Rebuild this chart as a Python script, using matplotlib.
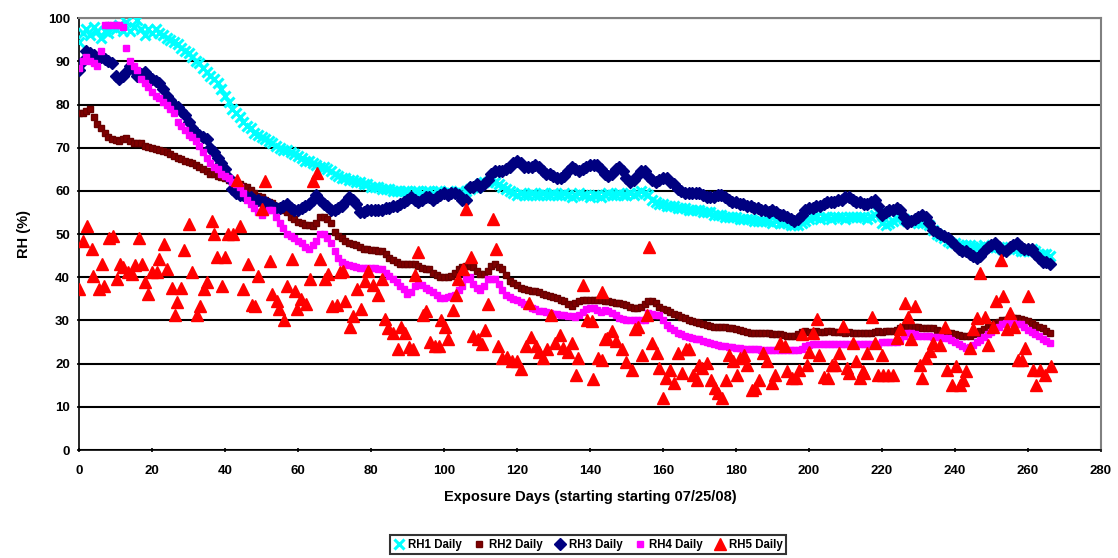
import numpy as np
import matplotlib
matplotlib.use("Agg")
import matplotlib.pyplot as plt

plt.rcParams['font.family'] = ['Liberation Sans', 'DejaVu Sans']
plt.rcParams['font.weight'] = 'bold'

# daily readings, day 0 .. 266
rh1 = [94.5, 96.5, 97.5, 96, 98, 97, 95.5, 97, 96.5, 98,
       97.5, 98.5, 97, 99, 97, 98, 99.5, 97.5, 96, 97.5,
       96.5, 97.5, 96.5, 96, 95.5, 95, 94.5, 94, 93, 92.5,
       92, 91, 90, 89.5, 88.5, 87.5, 86.5, 86, 85, 83.5,
       82, 80.5, 79, 78, 77, 76, 75, 74.5, 73.5, 73,
       72.5, 72, 71.5, 71, 70.5, 70, 69.5, 69.5, 69, 68.5,
       68, 67.5, 67, 67, 66.5, 66, 65.5, 65.5, 65, 64.5,
       64, 63.5, 63, 63, 62.5, 62.5, 62, 62, 61.5, 61.5,
       61, 61, 61, 60.5, 60.5, 60.5, 60, 60, 60, 60,
       60, 59.5, 60, 60, 59.5, 60, 60, 59.5, 60, 60,
       59.5, 60, 59.5, 59.5, 60, 59.5, 60, 60.5, 61, 61,
       61.5, 62, 62, 62.5, 62, 61.5, 61, 60.5, 60, 59.5,
       59, 59.5, 59, 59, 59.5, 59, 59, 59.5, 59, 59,
       59.5, 59, 59, 59.5, 59, 58.5, 59, 59.5, 59, 59,
       58.5, 59, 59, 58.5, 59, 59.5, 59, 59, 59.5, 59,
       59, 59.5, 59, 59.5, 60, 59.5, 59, 58, 57.5, 57,
       57, 56.5, 56.5, 56.5, 56, 56, 56, 55.5, 55.5, 55.5,
       55.5, 55, 55, 55, 54.5, 54.5, 54.5, 54, 54, 54,
       54, 53.5, 53.5, 53.5, 53.5, 53, 53, 53, 53, 53,
       52.5, 53, 52.5, 52.5, 52.5, 52, 52, 52, 52.5, 53,
       53.5, 54, 54, 53.5, 54, 54, 53.5, 54, 54, 54,
       53.5, 54, 54, 54, 54, 54, 53.5, 54, 54.5, 55,
       52.5, 52, 52.5, 53, 53.5, 54, 53.5, 53, 53, 53,
       52.5, 52.5, 53, 52, 51, 50, 49.5, 49, 48.5, 48,
       48, 47.5, 47.5, 47.5, 47.5, 47, 47, 47, 47.5, 47,
       47, 47, 47, 46.5, 46.5, 47, 46.5, 46.5, 46, 46,
       46, 46.5, 46, 45.5, 45.5, 45.5, 45]

rh2 = [78, 78, 78.5, 79, 77, 75.5, 74.5, 73.5, 72.5, 72,
       71.8, 71.5, 72, 72.2, 71.5, 71.2, 71, 71, 70.5, 70.2,
       70, 69.8, 69.5, 69.2, 69, 68.5, 68, 67.6, 67.3, 67,
       66.8, 66.5, 66, 65.5, 65, 64.5, 64, 63.8, 63.5, 63.2,
       63, 62.5, 62.5, 62, 61.5, 61.2, 61, 60.2, 59.5, 58.8,
       58.5, 58, 57.5, 57.2, 56.5, 56, 55.5, 55, 54, 53.5,
       52.8, 52.5, 52.2, 52, 51.8, 52.5, 54, 54, 53.5, 52.5,
       50.5, 49.5, 49, 48.5, 48, 47.8, 47.5, 47, 46.5, 46.5,
       46.3, 46.2, 46, 46, 45.5, 44.5, 44, 43.5, 43, 43,
       43, 43, 43, 42.5, 42.2, 42, 41.8, 41, 40.5, 40,
       40, 40, 40.3, 41, 41.8, 42.3, 42.5, 42.5, 42.3, 41.5,
       40.8, 40.8, 41.5, 42.5, 43, 42.3, 41.8, 40.5, 39.2, 38.7,
       38.2, 37.5, 37.2, 37, 36.8, 36.8, 36.5, 36.2, 35.8, 35.6,
       35.4, 35.2, 34.8, 34.5, 33.8, 33.3, 34, 34.6, 34.8, 34.8,
       34.8, 34.8, 34.8, 34.8, 34.6, 34.4, 34.2, 34, 34, 33.8,
       33.5, 33.2, 33, 32.9, 33.2, 33.8, 34.4, 34.4, 34, 33.2,
       32.6, 32.5, 32, 31.5, 31.2, 30.9, 30.5, 30.2, 29.8, 29.6,
       29.4, 29.2, 29, 28.8, 28.6, 28.6, 28.5, 28.4, 28.3, 28.2,
       28, 27.8, 27.5, 27.3, 27.1, 27.1, 27, 27, 27.1, 27,
       26.9, 26.8, 26.8, 26.6, 26.4, 26.3, 26.3, 26.8, 27.3, 27.5,
       27.4, 27.3, 27.5, 27.4, 27.3, 27.5, 27.5, 27.3, 27.4, 27.3,
       27.2, 27.3, 27.2, 27.1, 27.1, 27.2, 27.1, 27.2, 27.4, 27.5,
       27.4, 27.5, 27.5, 27.5, 27.8, 28.2, 28.5, 28.6, 28.6, 28.5,
       28.4, 28.3, 28.2, 28.2, 28.2, 27.9, 27.6, 27.3, 27.1, 27,
       26.9, 26.7, 26.5, 26.4, 26.3, 26.8, 27.2, 27.5, 28, 28.5,
       29, 29.4, 29.6, 30, 30.2, 30.4, 30.5, 30.5, 30.3, 30,
       29.8, 29.5, 29, 28.6, 28.2, 27.6, 27.1]

rh3 = [88, 90, 92.5, 92, 91.5, 90.5, 91, 90.5, 90, 89.5,
       86.5, 86, 86.5, 87.5, 89, 88, 86.5, 87, 87.5, 86.5,
       86, 85.5, 85, 83.5, 82, 81, 80, 79.5, 78.5, 77.5,
       76, 74.5, 73.5, 73, 72.5, 72, 70, 69, 67.5, 66.5,
       65, 63, 60.5, 59.5, 59, 59, 58.5, 58.5, 58, 58,
       57.5, 57.5, 57, 56.5, 56, 56, 56.5, 57, 56, 55.5,
       55.5, 56, 56.5, 57, 58, 59, 58, 57, 56.5, 55.5,
       55.5, 56, 56.5, 57.5, 58.5, 58, 57, 55, 55, 55.5,
       55.5, 55.5, 55.5, 55.5, 56, 56, 56.5, 56.5, 57, 57.5,
       58, 58.5, 58, 57.5, 58, 58.5, 58.5, 58, 58.5, 59,
       59.5, 59, 59.5, 59.5, 59, 58, 58, 61, 61, 61.5,
       61, 61.5, 62.5, 64, 64.5, 64.5, 64.5, 65, 65.5, 66.5,
       67, 66.5, 65.5, 65.5, 65.5, 66, 65.5, 64.5, 64, 64,
       63.5, 63, 63, 63.5, 64.5, 65.5, 65, 64.5, 65, 65.5,
       66, 66, 66, 65, 64, 63.5, 64, 65, 65.5, 64.5,
       63, 62, 62.5, 63.5, 64.5, 64.5, 63.5, 62.5, 62, 62.5,
       63, 63, 62, 61.5, 60.5, 60, 59.5, 59.5, 59.5, 59.5,
       59.5, 59, 58.5, 58.5, 58.5, 59, 59, 58.5, 58, 57.5,
       57.5, 57, 57, 56.5, 56.5, 56, 56, 55.5, 55.5, 55,
       55.5, 55, 54.5, 54.5, 54, 53.5, 53, 53.5, 54.5, 55.5,
       56, 56, 56.5, 56.5, 57, 57.5, 57.5, 57.5, 58, 58,
       58.5, 58.5, 58, 57.5, 57.5, 57, 57, 57.5, 58, 56.5,
       54.5, 55, 55.5, 55.5, 56, 55.5, 54, 52.5, 53, 53.5,
       54, 54.5, 54, 52.5, 51, 50.5, 50, 49.5, 49, 48.5,
       47.5, 46.5, 46, 46, 45.5, 45, 44.5, 45, 46, 47,
       47.5, 48, 47, 46, 46, 47, 47.5, 48, 47, 46.5,
       46.5, 46.5, 45.5, 44.5, 43.5, 43.5, 43]

rh4 = [88.5, 90, 91, 90, 89.5, 89, 92.5, 98.5, 98.5, 98.5,
       98.5, 98.5, 98, 93, 90, 89, 88, 86, 85, 84,
       83, 82, 81.5, 80.5, 80, 79, 78, 76, 75, 74,
       73, 72.5, 71.5, 70.5, 69, 67.5, 66.5, 65.5, 65, 64,
       63.5, 63, 62, 61.5, 61, 59.5, 58, 57, 56, 55,
       54.5, 55, 55.5, 55.5, 54, 52.5, 51.5, 50, 49.5, 49,
       48.5, 48, 47, 46.5, 47.5, 48.5, 50, 50, 49, 48,
       46, 44.5, 43.5, 43, 42.8, 42.5, 42.3, 42.2, 42.2, 42.2,
       42.2, 42.2, 42, 41.8, 41, 40.3, 39.5, 38.8, 38, 37.2,
       36.2, 36.5, 38, 38.7, 38.3, 37.5, 37, 36.5, 35.8, 35.2,
       35.2, 35.4, 35.6, 36, 37, 38, 39.5, 40, 38.5, 37.5,
       37, 38, 39.5, 39.5, 39.5, 38.5, 37, 36, 35.5, 35,
       34.8, 34.3, 33.8, 33.3, 33, 32.6, 32.3, 32.1, 32, 31.8,
       31.6, 31.5, 31.3, 31.2, 31, 31, 30.9, 31.2, 32, 32.6,
       32.9, 32.8, 32.5, 32, 32.5, 32.2, 31.8, 31.2, 30.6, 30.3,
       30.2, 30.2, 30.2, 30.2, 30.2, 30.2, 31.7, 31.5, 31.3, 31.3,
       30, 29, 28.3, 27.7, 27.1, 26.8, 26.5, 26.2, 26, 25.8,
       25.6, 25.3, 25, 24.8, 24.5, 24.3, 24.1, 24, 23.8, 23.8,
       23.7, 23.6, 23.5, 23.5, 23.4, 23.4, 23.3, 23.2, 23.2, 23.2,
       23.2, 23.2, 23.2, 23.2, 23.2, 23.2, 23.2, 23.2, 23.5, 24,
       24.3, 24.5, 24.5, 24.5, 24.5, 24.5, 24.5, 24.5, 24.5, 24.5,
       24.5, 24.5, 24.5, 24.5, 24.5, 24.5, 24.5, 24.5, 24.5, 24.5,
       25, 25, 25, 25, 25, 25.5, 26.5, 27.2, 27, 26.8,
       26.5, 26.4, 26.3, 26.3, 26.2, 26.2, 26.1, 26, 26, 25.5,
       25, 24.5, 24, 23.7, 23.8, 24.3, 25, 25.5, 26.2, 26.8,
       27.3, 28, 28.6, 29.2, 29.5, 29.5, 29.4, 29.2, 29.1, 28.5,
       27.8, 27.3, 26.8, 26.3, 25.8, 25.2, 24.8]

days = np.arange(len(rh1))

# RH5 is scattered, read point by point
rh5_days = [0, 1.2, 2.1, 3.5, 3.9, 5.6, 6.2, 6.9, 8.3, 9.2,
            10.3, 11.2, 12.1, 13.5, 14.4, 15.3, 16.4, 17.2, 18.1, 19,
            19.9, 21.3, 22, 23.4, 24, 25.4, 26.3, 26.9, 27.9, 28.8,
            30.2, 30.9, 32.2, 33.2, 34.2, 35, 36.4, 37.1, 37.7, 39.1,
            40, 40.9, 42.1, 43.2, 44.1, 44.8, 46.2, 47.3, 48.2, 49,
            50.2, 51, 52.2, 52.8, 54.2, 54.9, 56.2, 57.1, 58.4, 59.2,
            59.8, 60.8, 62.2, 63.3, 64.2, 65.1, 66, 67.4, 68.3, 69.2,
            70.6, 71.5, 72.4, 72.9, 74.2, 75.2, 76.3, 77.2, 78.4, 79.1,
            80.6, 82, 83.1, 83.8, 84.7, 85.9, 87.3, 88.1, 89.3, 90.5,
            91.6, 92.1, 92.8, 94.2, 95.2, 96.2, 97.5, 98.5, 99.1, 100.3,
            101.2, 102.6, 103.3, 103.9, 105.3, 105.9, 107.3, 108, 109.4, 110.3,
            111.2, 112.1, 113.5, 114.2, 114.9, 115.8, 117.2, 118.5, 119.9, 121.1,
            122.5, 123.3, 123.8, 125.2, 126.1, 127.2, 128.1, 129.2, 130.4, 131.8,
            132.7, 133.9, 135, 136.1, 136.8, 138.2, 139.1, 140.5, 140.9, 142.1,
            143.2, 143.2, 144.1, 144.6, 145.9, 147, 148.7, 150, 151.4, 152.3,
            153.2, 154.2, 155.5, 156.2, 156.9, 158.3, 159, 160.1, 160.8, 161.9,
            163, 164.2, 165.1, 166.3, 167.2, 168.1, 169.2, 169.9, 170.8, 172,
            173.2, 174.2, 175.2, 176.1, 177.3, 178.2, 179.1, 180.2, 181.1, 182.2,
            183.1, 184.3, 185.2, 186.4, 187.5, 188.4, 189.8, 190.7, 192, 193.4,
            194.1, 195.3, 196.4, 197.4, 198, 199.4, 200.1, 201, 202.1, 202.8,
            204.1, 205.3, 206.2, 207.1, 208.3, 209.2, 210.3, 211, 212, 213,
            214, 214.9, 215.1, 215.8, 217.2, 218.1, 219, 219.9, 220.4, 221.7,
            223.1, 224, 224.9, 226.3, 227.2, 228.1, 229, 230.4, 231.1, 232.1,
            233.2, 233.9, 235.9, 237.3, 237.9, 239.1, 240.3, 241.4, 242.1, 243,
            244.1, 245, 246.1, 247, 248.2, 249.1, 250.3, 251.2, 252.5, 253.2,
            254.2, 255.2, 256.2, 257.3, 258.3, 259.2, 260.1, 261.3, 262.1, 263.3,
            264.6, 266.2]
rh5 = [37.2, 48.4, 51.9, 46.6, 40.2, 37.2, 43.1, 38, 49, 49.6,
       39.6, 43.1, 42.4, 41.2, 40.8, 42.8, 49.2, 43.1, 38.8, 36.1,
       41.3, 41.3, 44.3, 47.8, 42, 37.6, 31.3, 34.3, 37.6, 46.2,
       52.3, 41.2, 31.3, 33.3, 37.2, 38.8, 53, 50.1, 44.7, 38,
       44.7, 50.1, 50.1, 62.5, 51.9, 37.2, 43.1, 33.6, 33.3, 40.4,
       55.7, 62.4, 43.7, 36.1, 34.5, 32.6, 30.2, 38, 44.3, 36.9,
       32.6, 34.9, 33.9, 39.6, 62.4, 64.2, 44.3, 39.6, 40.8, 33.3,
       33.6, 41.2, 41.4, 34.4, 28.6, 31, 37.3, 32.7, 39.1, 41.4,
       38.3, 36, 39.5, 30.3, 28.2, 27.2, 23.4, 28.6, 27.1, 23.8,
       23.4, 40.6, 45.9, 31.3, 32.1, 24.9, 24, 24, 30.2, 28.6,
       25.7, 32.5, 36, 39.5, 41.8, 55.9, 44.8, 26.5, 25.7, 24.6,
       27.8, 33.7, 53.5, 46.5, 24.2, 21.3, 21.5, 20.5, 20.5, 18.8,
       24, 34.1, 26.2, 24, 22.6, 21.3, 23.5, 31.3, 24.7, 26.7,
       23.7, 22.6, 24.7, 17.3, 21.3, 38.3, 30.2, 29.8, 16.5, 21.3,
       36.6, 20.9, 25.8, 26, 27.6, 25.2, 23.3, 20.3, 18.6, 28,
       28.4, 22.1, 31.3, 47.1, 24.8, 22.5, 19, 12, 16.6, 18.6,
       15.5, 22.5, 17.8, 23.3, 23.3, 17.4, 16.2, 19.7, 19, 20.2,
       16.2, 14.3, 13.1, 12, 16.2, 22.1, 20.5, 17.4, 21.3, 22.1,
       19.7, 13.9, 14.3, 16.2, 22.5, 20.5, 15.5, 17.4, 24.8, 24,
       18.2, 16.6, 16.6, 18.6, 26.8, 19.7, 22.7, 27.2, 30.3, 22.1,
       17, 16.6, 19.7, 19.7, 22.5, 28.8, 19, 17.8, 24.8, 20.7,
       16.6, 18.2, 17.8, 22.5, 30.9, 24.8, 17.4, 22.1, 17.4, 17.4,
       17.4, 26, 28, 34.1, 30.9, 25.6, 33.3, 19.8, 16.6, 21.3,
       22.9, 24.8, 24.4, 28.6, 18.6, 15.1, 19.4, 15.1, 16.2, 18.2,
       23.7, 28, 30.5, 41, 30.9, 24.4, 28.4, 34.5, 43.9, 35.7,
       28, 31.8, 28.4, 20.9, 20.9, 23.7, 35.7, 18.6, 15.1, 18.6,
       17.4, 19.4]

fig = plt.figure(figsize=(11.18, 5.58), dpi=100)
ax = fig.add_axes([0.0707, 0.1935, 0.914, 0.774])

ax.plot(days, rh1, 'x', color='#00FFFF', ms=6.5, mew=2.2, label='RH1 Daily', zorder=3)
ax.plot(days, rh2, 's', color='#800000', ms=5, mec='#6a0000', label='RH2 Daily', zorder=3)
ax.plot(days, rh3, 'D', color='#000080', ms=6.5, label='RH3 Daily', zorder=3)
ax.plot(days, rh4, 's', color='#FF00FF', ms=5, label='RH4 Daily', zorder=3)
ax.plot(rh5_days, rh5, '^', color='#FF0000', ms=8.5, label='RH5 Daily', zorder=4)

ax.set_xlim(0, 280)
ax.set_ylim(0, 100)
ax.set_xticks(np.arange(0, 281, 20))
ax.set_yticks(np.arange(0, 101, 10))
ax.tick_params(labelsize=9.5, length=3, width=1.2, direction='inout')
ax.tick_params(axis='x', pad=9)
ax.tick_params(axis='y', pad=5)
for lbl in ax.get_xticklabels() + ax.get_yticklabels():
    lbl.set_fontweight('bold')

ax.grid(axis='y', color='black', linewidth=1.5, zorder=1)
ax.set_axisbelow(True)
ax.spines['left'].set_color('black')
ax.spines['bottom'].set_color('black')
ax.spines['left'].set_linewidth(1.2)
ax.spines['bottom'].set_linewidth(1.2)
ax.spines['top'].set_color('#808080')
ax.spines['right'].set_color('#808080')
ax.spines['top'].set_linewidth(1.5)
ax.spines['right'].set_linewidth(1.5)

ax.set_xlabel('Exposure Days (starting starting 07/25/08)', fontsize=10.5, fontweight='bold', labelpad=10)
ax.set_ylabel('RH (%)', fontsize=10.5, fontweight='bold', labelpad=12)

leg = fig.legend(loc='center', bbox_to_anchor=(0.526, 0.024), ncol=5, fontsize=8.3,
                 frameon=True, fancybox=False, edgecolor='black', handlelength=1.0,
                 handletextpad=0.3, columnspacing=1.0, borderpad=0.3, markerscale=1.0)
leg.get_frame().set_linewidth(1.5)
for t in leg.get_texts():
    t.set_fontweight('bold')

fig.savefig('out.png', dpi=100)
